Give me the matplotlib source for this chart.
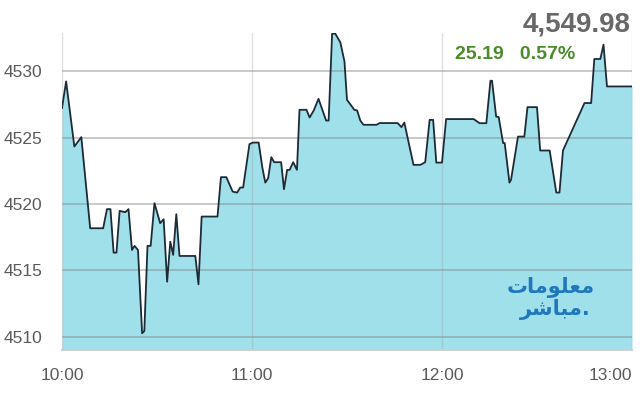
import matplotlib
matplotlib.use("Agg")
import matplotlib.pyplot as plt
import numpy as np

# minutes after 10:00
minutes = [0.0, 1.3, 3.9, 6.1, 8.9, 13.0, 14.2, 15.3, 16.3, 17.2, 18.2, 20.0, 21.0,
           22.1, 22.9, 24.0, 25.3, 26.0, 27.0, 28.0, 29.2, 31.0, 32.1, 33.2, 34.2,
           35.1, 36.1, 37.1, 42.1, 43.1, 44.1, 49.1, 50.2, 51.9, 53.9, 55.3, 56.3,
           57.2, 59.2, 60.3, 62.1, 63.3, 64.2, 65.1, 66.1, 67.0, 69.2, 70.1, 71.1,
           71.9, 73.0, 74.2, 75.0, 77.2, 78.2, 79.5, 81.0, 83.4, 84.2, 85.3, 86.3,
           87.9, 89.2, 90.0, 91.4, 92.3, 93.2, 94.2, 95.2, 99.3, 100.3, 106.0,
           107.2, 108.1, 111.0, 113.2, 114.7, 116.1, 117.2, 118.2, 120.0, 121.3,
           130.0, 131.9, 134.0, 135.3, 135.8, 137.1, 137.9, 139.3, 139.8, 141.3,
           141.8, 144.0, 146.0, 147.0, 150.0, 151.0, 154.0, 156.1, 157.1, 158.2,
           165.0, 167.1, 168.1, 170.0, 171.0, 172.1, 180.0]
values = [4527.24, 4529.25, 4524.34, 4525.05, 4518.18, 4518.18, 4519.62, 4519.62,
          4516.34, 4516.34, 4519.49, 4519.39, 4519.62, 4516.54, 4516.85, 4516.54,
          4510.26, 4510.43, 4516.85, 4516.85, 4520.07, 4518.56, 4518.86, 4514.15,
          4517.17, 4516.17, 4519.24, 4516.09, 4516.09, 4513.95, 4519.06, 4519.06,
          4522.03, 4522.03, 4520.94, 4520.87, 4521.25, 4521.25, 4524.52, 4524.64,
          4524.64, 4522.71, 4521.62, 4521.95, 4523.54, 4523.16, 4523.16, 4521.12,
          4522.58, 4522.58, 4523.16, 4522.58, 4527.11, 4527.11, 4526.53, 4527.06,
          4527.94, 4526.30, 4526.30, 4532.85, 4532.85, 4532.19, 4530.75, 4527.86,
          4527.41, 4527.11, 4527.06, 4526.30, 4525.98, 4525.98, 4526.11, 4526.11,
          4525.80, 4526.15, 4522.96, 4522.96, 4523.16, 4526.35, 4526.35, 4523.13,
          4523.13, 4526.41, 4526.41, 4526.10, 4526.10, 4529.30, 4529.30, 4526.60,
          4526.56, 4524.60, 4524.60, 4521.62, 4521.83, 4525.09, 4525.09, 4527.31,
          4527.31, 4524.04, 4524.04, 4520.87, 4520.87, 4524.04, 4527.62, 4527.62,
          4530.94, 4530.94, 4532.02, 4528.87, 4528.87]

y_ticks = [4510, 4515, 4520, 4525, 4530]
x_ticks = [0, 60, 120, 180]
x_labels = ["10:00", "11:00", "12:00", "13:00"]
last_value = "4,549.98"
change_text = "25.19   0.57%"

tick_font = ["Liberation Sans", "DejaVu Sans"]

fig = plt.figure(figsize=(6.4, 4.0), dpi=100)
ax = fig.add_axes([62 / 640, 1 - 350 / 400, 570 / 640, 317 / 400])

ymin, ymax = 4509.0, 4532.9
ax.set_xlim(0, 180)
ax.set_ylim(ymin, ymax)

ax.fill_between(minutes, values, ymin, color="#a0e0ea", zorder=1, linewidth=0)
for yt in y_ticks:
    ax.axhline(yt, color="#7a7a7a", alpha=0.4, linewidth=1.4, zorder=1.5)
for xt in x_ticks:
    ax.axvline(xt, color="#9a9a9a", alpha=0.3, linewidth=1.0, zorder=1.5)
ax.plot(minutes, values, color="#1c2b36", linewidth=1.3, zorder=3)

for s in ["top", "right", "left"]:
    ax.spines[s].set_visible(False)
ax.spines["bottom"].set_color("#cfcfcf")
ax.spines["bottom"].set_linewidth(1.5)

ax.set_yticks(y_ticks)
ax.set_yticklabels([str(v) for v in y_ticks], family=tick_font, fontsize=12.5, color="#5a5a5a")
ax.set_xticks(x_ticks)
ax.set_xticklabels(x_labels, family=tick_font, fontsize=12.5, color="#5a5a5a")
ax.tick_params(axis="y", length=0, pad=14)
ax.tick_params(axis="x", length=0, pad=13)
ax.get_xticklabels()[-1].set_horizontalalignment("right")

fig.text(631 / 640, 1 - 12 / 400, last_value, ha="right", va="top",
         fontsize=20, fontweight="bold", color="#686868", family="Liberation Sans")
fig.text(455 / 640, 1 - 46 / 400, change_text, ha="left", va="top",
         fontsize=14, fontweight="bold", color="#4a8c2c", family="Liberation Sans")

# watermark (Arabic, pre-shaped presentation forms in visual order)
line1 = "\uFE95\uFE8E\uFEE3\uFEEE\uFEE0\uFECC\uFEE3"   # معلومات
line2 = "\uFEAE\uFEB7\uFE8E\uFE92\uFEE3."               # مباشر.
fig.text(595 / 640, 1 - 277 / 400, line1, ha="right", va="top", fontsize=15,
         fontweight="bold", color="#1f78bd", family="DejaVu Sans")
fig.text(591 / 640, 1 - 299 / 400, line2, ha="right", va="top", fontsize=15,
         fontweight="bold", color="#1f78bd", family="DejaVu Sans")

fig.savefig("out.png", dpi=100)
